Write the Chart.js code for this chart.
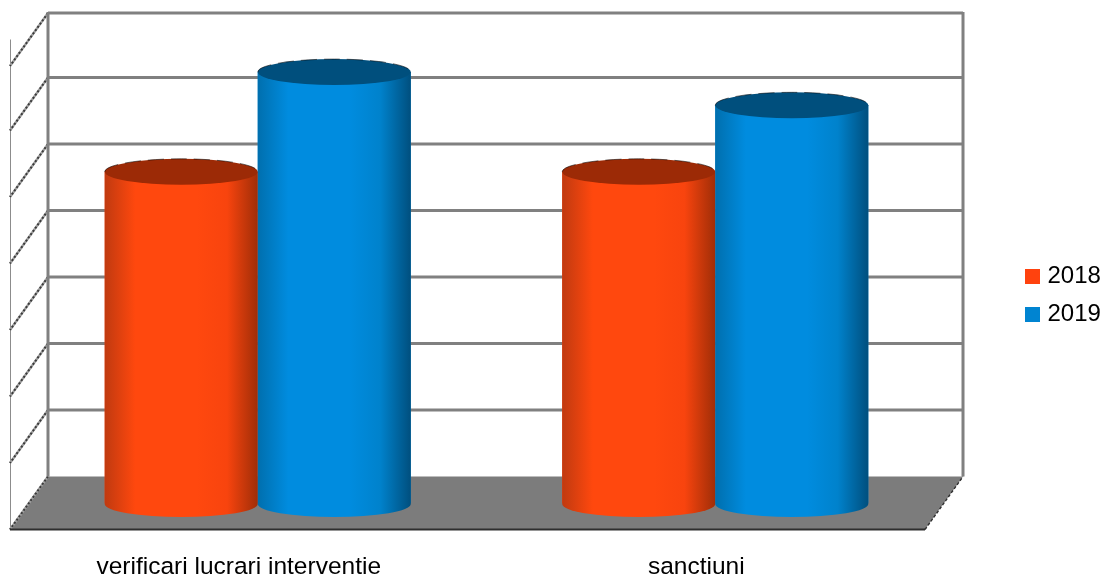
<!DOCTYPE html>
<html>
<head>
<meta charset="utf-8">
<title>verificari si sanctiuni</title>
<script src="https://cdn.jsdelivr.net/npm/chart.js@4"></script>
<style>
  body { margin: 0; background: #fff; }
  #wrap { width: 1105px; height: 576px; overflow: hidden; }
  /* the reference is an upscaled, slightly soft bitmap */
  #c { filter: blur(.5px); }
</style>
</head>
<body>
<div id="wrap"><canvas id="c" width="1105" height="576"></canvas></div>
<script>
const categories = ['verificari lucrari interventie', 'sanctiuni'];
const seriesNames = ['2018', '2019'];
const values2018 = [4.98, 4.98];
const values2019 = [6.48, 5.98];
const axisMax = 6.97;

const baseColors = ['#ff420e', '#0084d1'];
const leftEdge = ['#c03a10', '#006fae'];
const midColors = ['#ff480e', '#008cdf'];
const shoulder = ['#f8440e', '#0082cc'];
const rightEdge = ['#a02e08', '#004f7e'];
const capColors = ['#9c2a06', '#004f7d'];

// depth of the fake 3D box, measured from the plane the cylinders stand in
const DX = 19, DY = 26.5, CAP_RY = 13;

const box3d = {
  id: 'box3d',
  afterLayout(chart) {
    // legend sits apart from the plot, same spot as the reference
    const lg = chart.legend;
    const w = lg.right - lg.left, h = lg.bottom - lg.top;
    lg.left = 1015.5; lg.right = lg.left + w;
    lg.top = 250.5; lg.bottom = lg.top + h;
  },
  beforeDatasetsDraw(chart) {
    const { ctx, chartArea: a, scales: { y } } = chart;
    const bl = a.left + DX, br = a.right + DX;
    const fl = a.left - DX, fr = a.right - DX;
    const by = a.bottom - DY, fy = a.bottom + DY;
    ctx.save();

    // floor
    ctx.fillStyle = '#7c7c7c';
    ctx.beginPath();
    ctx.moveTo(bl, by); ctx.lineTo(br, by); ctx.lineTo(fr, fy); ctx.lineTo(fl, fy);
    ctx.closePath();
    ctx.fill();

    // left wall outer edge
    const topY = y.getPixelForValue(axisMax);
    ctx.strokeStyle = '#8c8c8c';
    ctx.lineWidth = 1;
    ctx.beginPath();
    ctx.moveTo(fl + 0.5, topY); ctx.lineTo(fl + 0.5, fy);
    ctx.stroke();

    y.ticks.forEach(t => {
      const py = y.getPixelForValue(t.value);
      // back wall line
      if (t.value > 0) {
        ctx.strokeStyle = '#808080';
        ctx.lineWidth = 2.8;
        ctx.beginPath();
        ctx.moveTo(bl, py - DY); ctx.lineTo(br, py - DY);
        ctx.stroke();
      }
      // left wall diagonal
      ctx.lineWidth = 2.4;
      ctx.strokeStyle = '#a0a0a0';
      ctx.beginPath();
      ctx.moveTo(bl, py - DY); ctx.lineTo(fl, py + DY);
      ctx.stroke();
      ctx.strokeStyle = '#3a3a3a';
      ctx.lineWidth = 2;
      ctx.setLineDash([2, 2]);
      ctx.stroke();
      ctx.setLineDash([]);
    });

    // back wall sides
    ctx.strokeStyle = '#808080';
    ctx.lineWidth = 3;
    ctx.beginPath();
    ctx.moveTo(bl, topY - DY - 1); ctx.lineTo(bl, by);
    ctx.moveTo(br, topY - DY - 1); ctx.lineTo(br, by);
    ctx.stroke();

    // front and right edge of the floor
    ctx.strokeStyle = '#2e2e2e';
    ctx.lineWidth = 1.8;
    ctx.beginPath();
    ctx.moveTo(fl, fy); ctx.lineTo(fr, fy);
    ctx.stroke();
    ctx.setLineDash([3, 2]);
    ctx.lineWidth = 1.4;
    ctx.beginPath();
    ctx.moveTo(fr, fy); ctx.lineTo(br, by);
    ctx.stroke();
    ctx.restore();
  },
  afterDatasetsDraw(chart) {
    const { ctx } = chart;
    ctx.save();
    // 2018 first so that 2019 overlaps it
    seriesNames.forEach((name, i) => {
      chart.getDatasetMeta(i).data.forEach(bar => {
        const rx = bar.width / 2;
        const l = bar.x - rx, r = bar.x + rx;
        const g = ctx.createLinearGradient(l, 0, r, 0);
        g.addColorStop(0, leftEdge[i]);
        g.addColorStop(0.2, midColors[i]);
        g.addColorStop(0.6, midColors[i]);
        g.addColorStop(0.8, shoulder[i]);
        g.addColorStop(1, rightEdge[i]);
        // body with rounded foot
        ctx.fillStyle = g;
        ctx.beginPath();
        ctx.moveTo(l, bar.y);
        ctx.lineTo(l, bar.base);
        ctx.ellipse(bar.x, bar.base + 1, rx, CAP_RY, 0, Math.PI, 0, true);
        ctx.lineTo(r, bar.y);
        ctx.closePath();
        ctx.fill();
        // cap
        ctx.fillStyle = capColors[i];
        ctx.beginPath();
        ctx.ellipse(bar.x, bar.y, rx, CAP_RY, 0, 0, Math.PI * 2);
        ctx.fill();
        // broken dark rim along the back of the cap
        ctx.strokeStyle = 'rgba(0,0,0,.55)';
        ctx.lineWidth = 1;
        ctx.setLineDash([16, 7]);
        ctx.beginPath();
        ctx.ellipse(bar.x, bar.y, rx, CAP_RY, 0, Math.PI, 0);
        ctx.stroke();
        ctx.setLineDash([]);
      });
    });
    ctx.restore();
  }
};

new Chart(document.getElementById('c'), {
  type: 'bar',
  plugins: [box3d],
  data: {
    labels: categories,
    datasets: [
      { label: seriesNames[0], data: values2018, backgroundColor: baseColors[0] },
      { label: seriesNames[1], data: values2019, backgroundColor: baseColors[1] }
    ]
  },
  options: {
    responsive: false,
    animation: false,
    categoryPercentage: 0.669,
    barPercentage: 1,
    layout: { padding: { left: 29, right: 65.6, top: 39.5, bottom: 0 } },
    plugins: {
      tooltip: { enabled: false },
      legend: {
        position: 'right',
        align: 'start',
        labels: {
          color: '#000',
          font: { family: '"Liberation Sans", Arial, sans-serif', size: 24 },
          boxWidth: 6,
          boxHeight: 6,
          padding: 14,
          // small box + thick border, keeps the text close to the swatch
          generateLabels: chart => chart.data.datasets.map((d, i) => ({
            text: d.label,
            datasetIndex: i,
            fillStyle: d.backgroundColor,
            strokeStyle: d.backgroundColor,
            lineWidth: 9,
            fontColor: '#000'
          }))
        }
      }
    },
    scales: {
      x: {
        grid: { display: false },
        border: { display: false },
        afterFit: s => { s.height = 73; },
        ticks: {
          color: '#000',
          font: { family: '"Liberation Sans", Arial, sans-serif', size: 24.5 },
          labelOffset: -DX,
          maxRotation: 0,
          autoSkip: false,
          padding: 42
        }
      },
      y: {
        display: false,
        min: 0,
        max: axisMax,
        ticks: { stepSize: 1 }
      }
    }
  }
});
</script>
</body>
</html>
